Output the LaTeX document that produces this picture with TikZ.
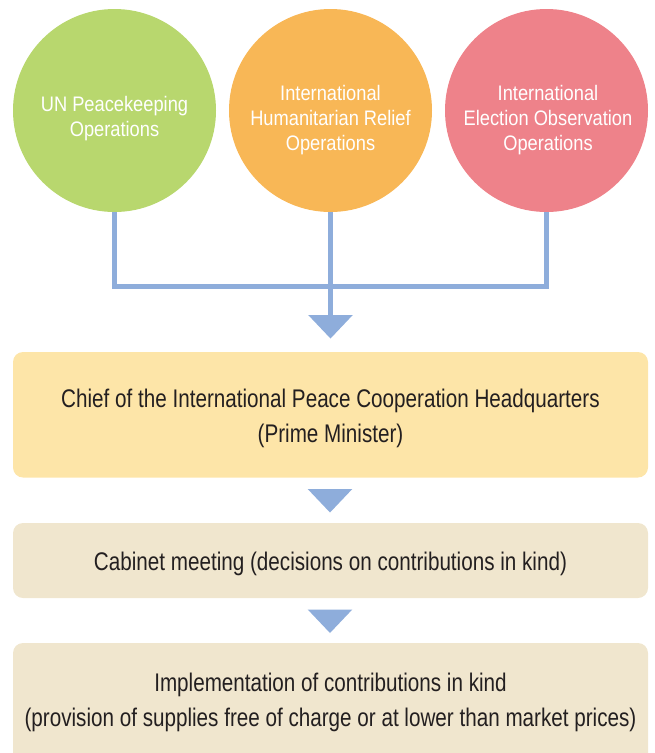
\documentclass[tikz,border=0pt]{standalone}
\usepackage{fontspec}
\setmainfont{Liberation Sans}[FakeStretch=0.81]
\newfontfamily\circfont{Liberation Sans}[FakeStretch=0.87]
\usetikzlibrary{calc}
\definecolor{cgreen}{RGB}{184,215,110}
\definecolor{corange}{RGB}{248,183,86}
\definecolor{cred}{RGB}{238,130,138}
\definecolor{cyellow}{RGB}{253,229,168}
\definecolor{cbeige}{RGB}{240,230,206}
\definecolor{cblue}{RGB}{142,173,219}
\definecolor{ctext}{RGB}{35,31,32}
\begin{document}
\begin{tikzpicture}[x=1pt,y=-1pt,
  circ/.style={circle,draw=none,minimum size=203pt,inner sep=0pt},
  ctxt/.style={text=white,align=center,font=\circfont\fontsize{21pt}{25pt}\selectfont,inner sep=0pt},
  boxshape/.style={draw=none,rounded corners=10pt,minimum width=635pt,inner sep=0pt},
  btxt/.style={text=ctext,align=center,font=\fontsize{25.5pt}{35pt}\selectfont,inner sep=0pt},
  conn/.style={draw=cblue,line width=5pt},
  tri/.style={fill=cblue}
]
\useasboundingbox (0,0) rectangle (654,753);
% circles
\node[circ,fill=cgreen] (c1) at (114.5,110.5) {};
\node[circ,fill=corange] (c2) at (330.5,110.5) {};
\node[circ,fill=cred] (c3) at (546.5,110.5) {};
\node[ctxt] (t1) at (114.5,118.5) {UN Peacekeeping\\Operations};
\node[ctxt] (t2) at (330.5,120) {International\\Humanitarian Relief\\Operations};
\node[ctxt] (t3) at (548,120) {International\\Election Observation\\Operations};
% connectors
\coordinate (hy) at (330.5,286.5);
\coordinate (a0) at (330.5,315);
\draw[conn] (c1.south) |- (hy) -| (c3.south);
\draw[conn] (c2.south) -- (a0);
\fill[tri] (a0) ++(-22.3,0) -- ++(44.6,0) -- ++(-22.3,23.5) -- cycle;
% boxes
\node[boxshape,fill=cyellow,minimum height=125.5pt] (b1) at (330.5,414.75) {};
\node[btxt] (bt1) at (330.5,418) {Chief of the International Peace Cooperation Headquarters\\(Prime Minister)};
\coordinate (a1) at (330,489);
\fill[tri] (a1) ++(-22.3,0) -- ++(44.6,0) -- ++(-22.3,23.5) -- cycle;
\node[boxshape,fill=cbeige,minimum height=75pt] (b2) at (330.5,560.5) {};
\node[btxt] (bt2) at (330.5,564) {Cabinet meeting (decisions on contributions in kind)};
\coordinate (a2) at (330,609.5);
\fill[tri] (a2) ++(-22.3,0) -- ++(44.6,0) -- ++(-22.3,23.5) -- cycle;
\begin{scope}
\clip (0,0) rectangle (654,753);
\node[boxshape,fill=cbeige,minimum height=140pt] (b3) at (330.5,713) {};
\end{scope}
\node[btxt] (bt3) at (330.5,702.5) {Implementation of contributions in kind\\(provision of supplies free of charge or at lower than market prices)};
\end{tikzpicture}
\end{document}
